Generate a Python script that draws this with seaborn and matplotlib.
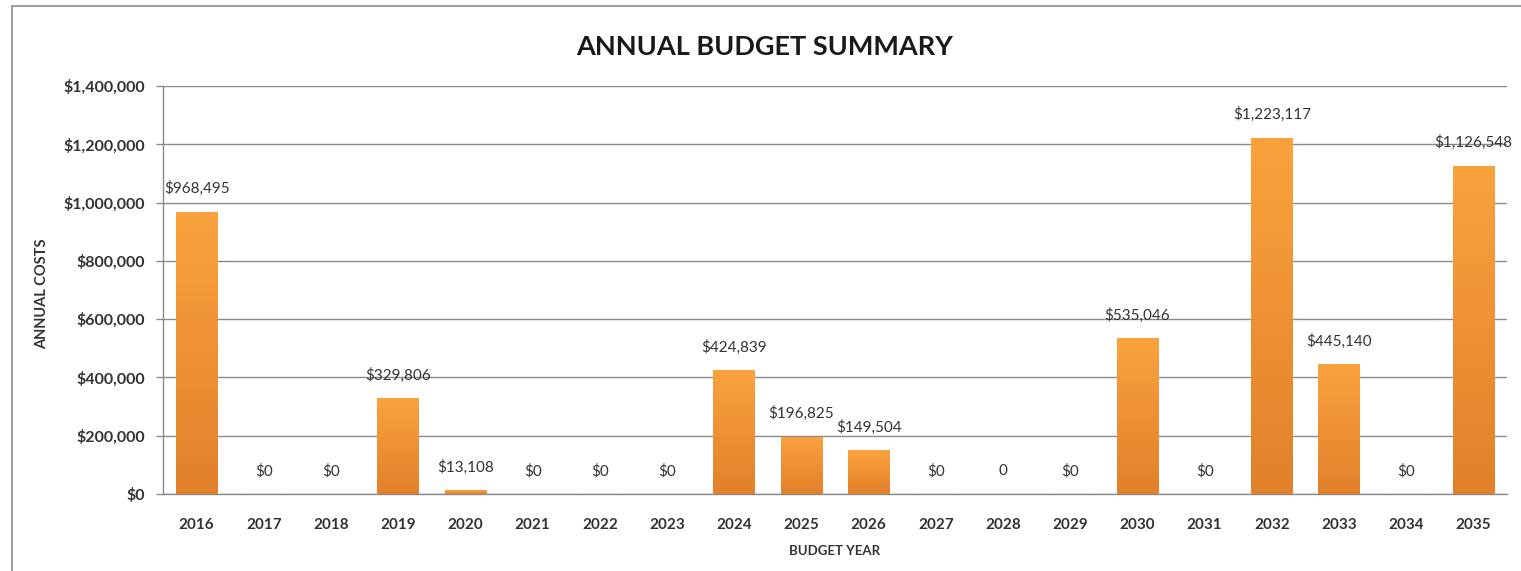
import numpy as np
import pandas as pd
import matplotlib
matplotlib.use("Agg")
import matplotlib.pyplot as plt
import seaborn as sns
from matplotlib.patches import Rectangle
from matplotlib.ticker import FuncFormatter

years = ["2016", "2017", "2018", "2019", "2020", "2021", "2022", "2023", "2024", "2025",
         "2026", "2027", "2028", "2029", "2030", "2031", "2032", "2033", "2034", "2035"]
costs = [968495, 0, 0, 329806, 13108, 0, 0, 0, 424839, 196825,
         149504, 0, 0, 0, 535046, 0, 1223117, 445140, 0, 1126548]
cost_labels = ["$968,495", "$0", "$0", "$329,806", "$13,108", "$0", "$0", "$0", "$424,839", "$196,825",
               "$149,504", "$0", "0", "$0", "$535,046", "$0", "$1,223,117", "$445,140", "$0", "$1,126,548"]
y_ticks = [0, 200000, 400000, 600000, 800000, 1000000, 1200000, 1400000]

df = pd.DataFrame({"year": years, "cost": costs})

sns.set_style("white")
plt.rcParams["font.family"] = ["Lato", "DejaVu Sans"]

fig = plt.figure(figsize=(15.21, 5.71), dpi=100)
ax = fig.add_axes([0.1072, 0.1349, 0.8836, 0.7145])

sns.barplot(data=df, x="year", y="cost", color="#F39A3A", width=0.62, ax=ax, zorder=2)

ax.set_ylim(0, 1400000)
ax.set_xlim(-0.5, len(years) - 0.5)

# orange gradient, lighter at the top, darker at the base
top_c = np.array([250, 163, 62]) / 255
bot_c = np.array([226, 128, 44]) / 255
t = np.linspace(0, 1, 256)[:, None]
grad = (top_c * (1 - t) + bot_c * t)[:, None, :]
for p in ax.patches:
    h = p.get_height()
    if h <= 0:
        continue
    x0 = p.get_x()
    w = p.get_width()
    im = ax.imshow(grad, extent=(x0, x0 + w, 0, h), aspect="auto", origin="upper", zorder=3)
    im.set_clip_path(p)
    p.set_edgecolor("none")
ax.set_xlim(-0.5, len(years) - 0.5)
ax.set_ylim(0, 1400000)

for i, (v, lab) in enumerate(zip(costs, cost_labels)):
    ax.annotate(lab, xy=(i, v), xytext=(0, 16.5), textcoords="offset points",
                ha="center", va="center", fontsize=11, color="#333333",
                annotation_clip=False, zorder=5)

ax.set_yticks(y_ticks)
ax.yaxis.set_major_formatter(FuncFormatter(lambda v, _: f"${v:,.0f}"))
ax.grid(axis="y", color="#8a8a8a", linewidth=1.0, zorder=0)
ax.set_axisbelow(True)
for s in ["top", "right"]:
    ax.spines[s].set_visible(False)
ax.spines["left"].set_color("#8a8a8a")
ax.spines["bottom"].set_color("#8a8a8a")
ax.spines["left"].set_linewidth(1.0)
ax.spines["bottom"].set_linewidth(1.0)
ax.tick_params(axis="y", left=True, length=5, width=1, color="#8a8a8a", pad=8,
               labelsize=11.5, labelcolor="#333333")
ax.tick_params(axis="x", bottom=False, pad=14, labelsize=11, labelcolor="#333333")
for lab in ax.get_xticklabels() + ax.get_yticklabels():
    lab.set_fontweight("bold")

ax.set_xlabel("BUDGET YEAR", fontsize=9.5, fontweight="bold", color="#333333", labelpad=9)
ax.set_ylabel("ANNUAL COSTS", fontsize=10.5, fontweight="bold", color="#333333")
ax.yaxis.set_label_coords(-0.0848, 0.49)

fig.text(0.503, 0.918, "ANNUAL BUDGET SUMMARY", ha="center", va="center",
         fontsize=19.5, fontweight="bold", color="#1a1a1a")

# outer chart border
fig.patches.append(Rectangle((12 / 1521, -0.05), 1.1, 1 - 6 / 571 + 0.05,
                             transform=fig.transFigure, fill=False,
                             edgecolor="#a0a0a0", linewidth=1.5))

fig.savefig("out.png", dpi=100)
